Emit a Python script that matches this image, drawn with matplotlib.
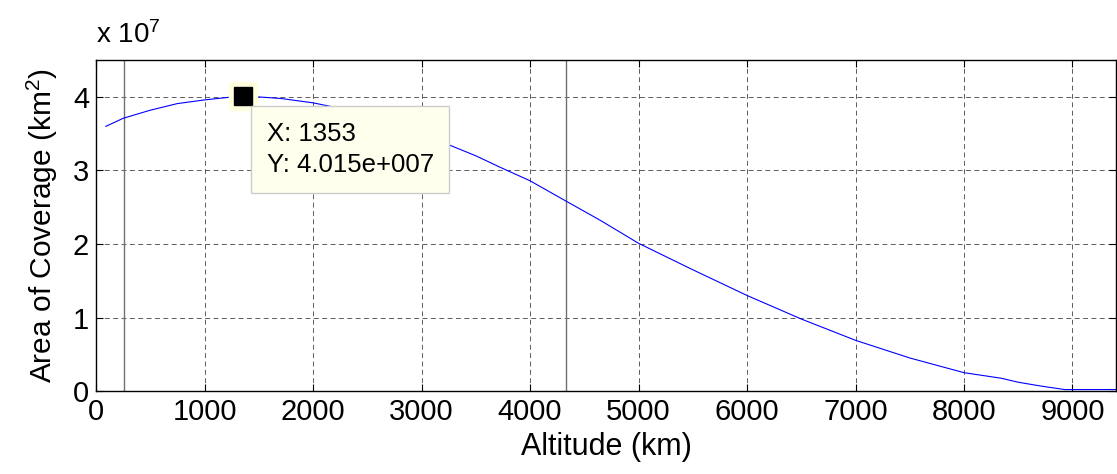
import numpy as np
import matplotlib.pyplot as plt

plt.rcParams['font.family'] = ['Liberation Sans', 'DejaVu Sans']
plt.rcParams['mathtext.fontset'] = 'custom'
plt.rcParams['mathtext.rm'] = 'Liberation Sans'
plt.rcParams['mathtext.it'] = 'Liberation Sans'

# altitude (km) and area of coverage (x 1e7 km^2)
altitude = [90, 250, 500, 750, 1000, 1353, 1700, 2000, 2200, 2500, 3000, 3200,
            3500, 3730, 4000, 4300, 4650, 5000, 5500, 6000, 6500, 7000, 7500,
            8000, 8340, 8500, 8700, 8930, 9400]
area = [3.60, 3.71, 3.82, 3.91, 3.96, 4.015, 3.98, 3.92, 3.86, 3.74, 3.48, 3.38,
        3.20, 3.04, 2.86, 2.61, 2.32, 2.01, 1.65, 1.30, 0.98, 0.69, 0.45,
        0.25, 0.175, 0.12, 0.07, 0.02, 0.02]
markers_x = [258, 4336]
tip_x, tip_y = 1353, 4.015e7

fig = plt.figure(figsize=(11.17, 4.74), dpi=100)
ax = fig.add_axes([0.086, 0.175, 0.913, 0.698])

ax.plot(altitude, np.array(area) * 1e7, color='#0000FF', lw=0.8, zorder=3)
for xv in markers_x:
    ax.axvline(xv, color='#707070', lw=1.0, zorder=2)

ax.set_xlim(0, 9400)
ax.set_ylim(0, 4.5e7)
ax.set_xticks(np.arange(0, 9001, 1000))
ax.set_yticks(np.arange(0, 4.01e7, 1e7))
ax.set_yticklabels(['0', '1', '2', '3', '4'])
ax.grid(True, color='#333333', linestyle=(0, (5, 3.6)), lw=0.7, alpha=0.8)
ax.tick_params(direction='in', top=True, right=True, length=5, labelsize=21, pad=5)
for s in ax.spines.values():
    s.set_linewidth(1.0)

ax.set_xlabel('Altitude (km)', fontsize=22, labelpad=4)
ax.set_ylabel('Area of Coverage (km$^2$)', fontsize=21.5, labelpad=9)
fig.text(0.086, 0.91, r'x 10$^{7}$', fontsize=20)

# data tip
ax.plot(tip_x, tip_y, marker='s', ms=20, color='#FFFFE0', mec='#FFFFE0', zorder=5)
ax.plot(tip_x, tip_y, marker='s', ms=13.5, color='black', zorder=6)
ax.annotate('X: 1353\nY: 4.015e+007', xy=(tip_x, tip_y), xytext=(24, -26),
            textcoords='offset pixels', ha='left', va='top', fontsize=18.5,
            linespacing=1.4, zorder=7,
            bbox=dict(boxstyle='square,pad=0.6', fc='#FFFFEE', ec='#CCCCCC', lw=1))

fig.savefig('out.png', dpi=100)
